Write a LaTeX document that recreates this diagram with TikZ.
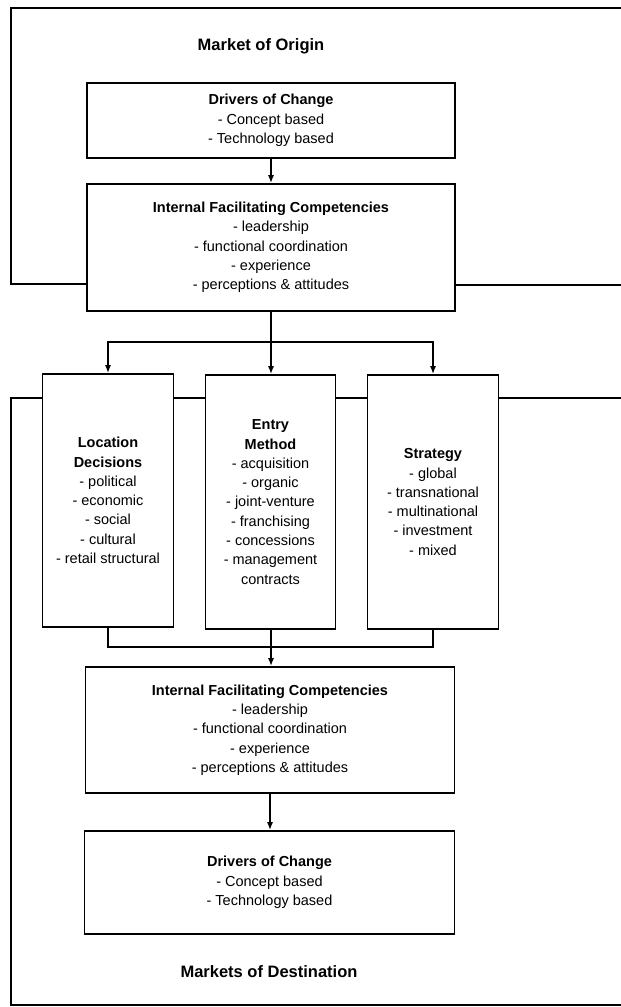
\documentclass[tikz,border=0pt]{standalone}
\usepackage{fontspec}
\setmainfont{Liberation Sans}
\usetikzlibrary{arrows.meta}
\tikzset{
  boxnode/.style={draw, line width=1.6pt, inner sep=0pt, align=center,
    font=\fontsize{14.5}{19.3}\selectfont},
  frameline/.style={line width=1.4pt},
  link/.style={line width=1.5pt},
  flow/.style={line width=1.5pt, -{Latex[length=8pt,width=6pt]}},
  heading/.style={font=\fontsize{16.5}{20}\selectfont\bfseries}
}
\begin{document}
\begin{tikzpicture}[x=1pt,y=-1pt]
\useasboundingbox[fill=white] (0,0) rectangle (621,1007);

% market of origin
\node[heading] (origin) at (261,46) {Market of Origin};
\node[boxnode, minimum width=368pt, minimum height=75pt] (drv1) at (271,120.5)
  {\textbf{Drivers of Change}\\- Concept based\\- Technology based};
\node[boxnode, minimum width=368pt, minimum height=127pt] (ifc1) at (271,247.5)
  {\textbf{Internal Facilitating Competencies}\\- leadership\\- functional coordination\\- experience\\- perceptions \& attitudes};

% the three decision areas
\node[boxnode, minimum width=131pt, minimum height=253pt] (loc) at (108,500.5)
  {\textbf{Location}\\\textbf{Decisions}\\- political\\- economic\\- social\\- cultural\\- retail structural};
\node[boxnode, minimum width=130pt, minimum height=254pt] (ent) at (270.5,502)
  {\textbf{Entry}\\\textbf{Method}\\- acquisition\\- organic\\- joint-venture\\- franchising\\- concessions\\- management\\contracts};
\node[boxnode, minimum width=131pt, minimum height=254pt] (str) at (433,502)
  {\textbf{Strategy}\\- global\\- transnational\\- multinational\\- investment\\- mixed};

% markets of destination
\node[boxnode, minimum width=369pt, minimum height=126pt] (ifc2) at (270,730)
  {\textbf{Internal Facilitating Competencies}\\- leadership\\- functional coordination\\- experience\\- perceptions \& attitudes};
\node[boxnode, minimum width=370pt, minimum height=103pt] (drv2) at (269.5,882.5)
  {\textbf{Drivers of Change}\\- Concept based\\- Technology based};
\node[heading] (dest) at (269,972) {Markets of Destination};

% frame of the market of origin
\coordinate (oTR) at (621,8);
\coordinate (oTL) at (11,8);
\coordinate (oBL) at (11,284);
\coordinate (oR) at (621,285);
\draw[frameline] (oTR) -- (oTL) -- (oBL) -- (oBL -| ifc1.west);
\draw[frameline] (oR -| ifc1.east) -- (oR);

% frame of the markets of destination
\coordinate (dTL) at (11,398);
\coordinate (dBL) at (11,1005);
\coordinate (dBR) at (621,1005);
\coordinate (dR) at (621,398);
\draw[frameline] (dTL -| loc.west) -- (dTL) -- (dBL) -- (dBR);
\draw[frameline] (dTL -| loc.east) -- (dTL -| ent.west);
\draw[frameline] (dTL -| ent.east) -- (dTL -| str.west);
\draw[frameline] (dTL -| str.east) -- (dR);

% flow
\draw[flow] (drv1.south) -- (ifc1.north);
\coordinate (split) at (271,342);
\draw[link] (ifc1.south) -- (split);
\draw[flow] (split) -- (split |- ent.north);
\draw[flow] (split) -| (loc.north);
\draw[flow] (split) -| (str.north);

\coordinate (join) at (271,647);
\draw[link] (loc.south) |- (join);
\draw[link] (str.south) |- (join);
\draw[flow] (ent.south -| join) -- (join |- ifc2.north);
\draw[flow] (ifc2.south) -- (ifc2.south |- drv2.north);
\end{tikzpicture}
\end{document}
